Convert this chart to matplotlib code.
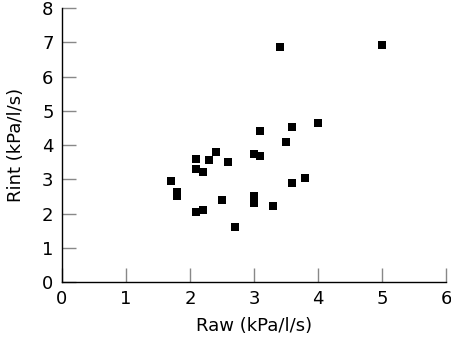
import matplotlib
matplotlib.use("Agg")
import matplotlib.pyplot as plt

# Raw vs Rint (kPa/l/s)
raw = [1.70, 1.80, 1.80, 2.10, 2.10, 2.20, 2.30, 2.40, 2.60, 2.10, 2.20,
       2.50, 2.70, 3.00, 3.00, 3.00, 3.10, 3.10, 3.30, 3.40, 3.50, 3.60,
       3.60, 3.80, 4.00, 5.00]
rint = [2.96, 2.62, 2.50, 3.59, 3.29, 3.20, 3.56, 3.79, 3.52, 2.05, 2.10,
        2.41, 1.61, 2.50, 2.32, 3.75, 3.67, 4.41, 2.21, 6.86, 4.09, 4.53,
        2.90, 3.05, 4.64, 6.93]

xticks = [0, 1, 2, 3, 4, 5, 6]
yticks = [0, 1, 2, 3, 4, 5, 6, 7, 8]

fig = plt.figure(figsize=(4.52, 3.37), dpi=100)
ax = fig.add_axes([0.137, 0.163, 0.850, 0.813])

ax.scatter(raw, rint, marker="s", s=30, color="black", linewidths=0)

ax.set_xlim(0, 6)
ax.set_ylim(0, 8)
ax.set_xticks(xticks)
ax.set_yticks(yticks)
ax.tick_params(direction="in", length=10, width=1, color="#888888",
               labelsize=13, pad=6)

for s in ("top", "right"):
    ax.spines[s].set_visible(False)
for s in ("left", "bottom"):
    ax.spines[s].set_linewidth(1)

ax.set_xlabel("Raw (kPa/l/s)", fontsize=13, labelpad=6)
ax.set_ylabel("Rint (kPa/l/s)", fontsize=13, labelpad=12)

fig.savefig("out.png", dpi=100)
